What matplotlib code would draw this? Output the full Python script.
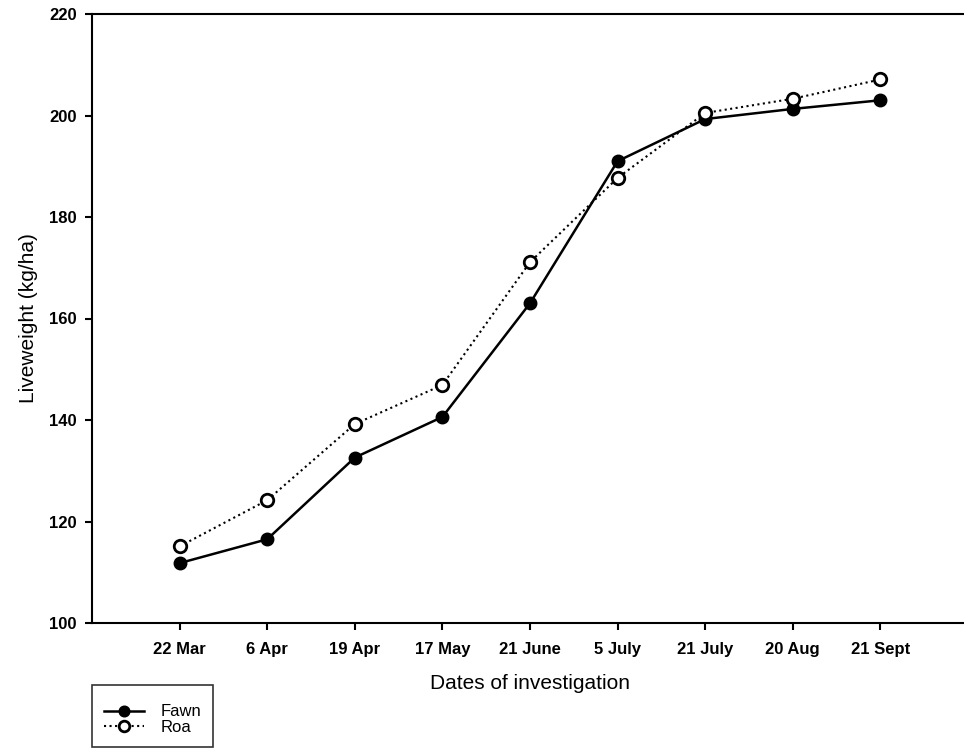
import matplotlib
matplotlib.use("Agg")
import matplotlib.pyplot as plt

dates = ["22 Mar", "6 Apr", "19 Apr", "17 May", "21 June", "5 July", "21 July", "20 Aug", "21 Sept"]
fawn = [111.8, 116.5, 132.6, 140.6, 163.0, 191.0, 199.3, 201.3, 203.0]
roa = [115.1, 124.2, 139.2, 146.9, 171.1, 187.7, 200.5, 203.3, 207.1]
yticks = [100, 120, 140, 160, 180, 200, 220]

plt.rcParams['font.family'] = ['Liberation Sans', 'DejaVu Sans']

fig = plt.figure(figsize=(9.64, 7.54), dpi=100)
ax = fig.add_axes([92/964, 1-623/754, (968-92)/964, (623-14)/754])

x = list(range(1, len(dates) + 1))
ax.plot(x, fawn, color='black', linestyle='-', linewidth=1.8, marker='o',
        markersize=9, markerfacecolor='black', markeredgecolor='black', label='Fawn')
ax.plot(x, roa, color='black', linestyle=':', linewidth=1.5, marker='o',
        markersize=9, markerfacecolor='white', markeredgecolor='black',
        markeredgewidth=2, label='Roa')

ax.set_xlim(0, 10)
ax.set_ylim(100, 220)
ax.set_xticks(x)
ax.set_xticklabels(dates, fontsize=12, fontweight='bold')
ax.set_yticks(yticks)
ax.set_yticklabels([str(v) for v in yticks], fontsize=12, fontweight='bold')
ax.tick_params(direction='out', length=5, width=1.5)
ax.tick_params(axis='x', pad=9)
ax.tick_params(axis='y', pad=6)
for s in ax.spines.values():
    s.set_linewidth(1.5)

ax.set_xlabel("Dates of investigation", fontsize=15, labelpad=12)
ax.set_ylabel("Liveweight (kg/ha)", fontsize=15, labelpad=8)

leg = fig.legend(loc='upper left', bbox_to_anchor=(92/964, 1-685/754),
                 fontsize=12, frameon=True, fancybox=False, edgecolor='black',
                 handlelength=2.4, handletextpad=1.0, borderpad=0.7,
                 labelspacing=0.05, borderaxespad=0.0,
                 title=' ', title_fontsize=5, markerscale=0.85)
leg.get_frame().set_linewidth(1.2)

fig.savefig("out.png", dpi=100)
